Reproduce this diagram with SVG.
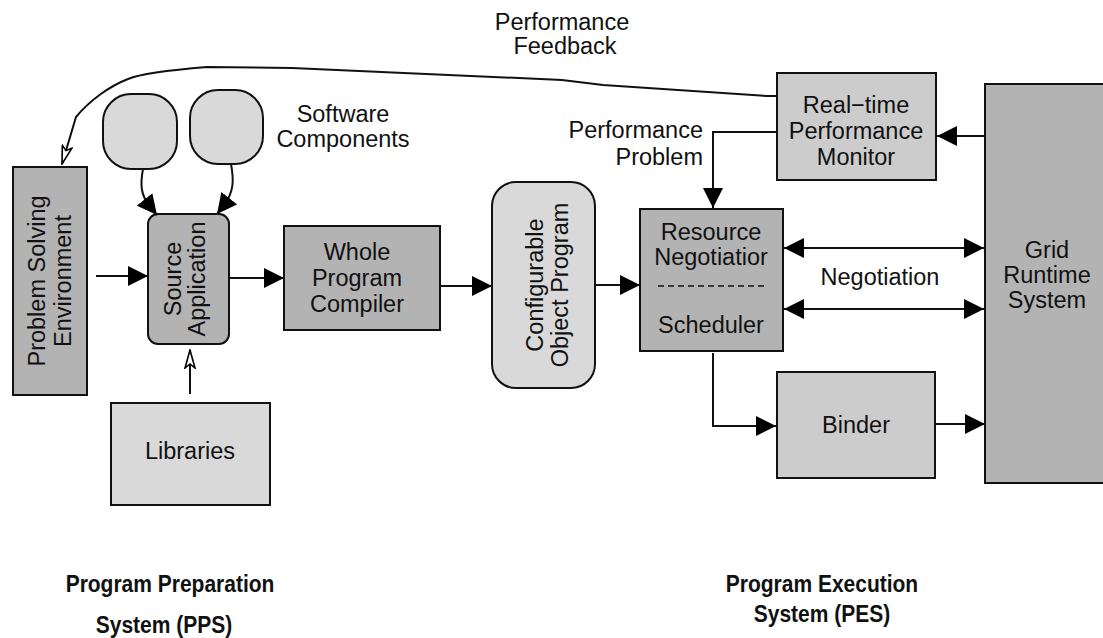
<svg xmlns="http://www.w3.org/2000/svg" width="1103" height="638" viewBox="0 0 1103 638">
<defs>
<style>
text{font-family:"Liberation Sans",Arial,Helvetica,sans-serif;font-size:23.5px;fill:#111;text-anchor:middle}
.b{font-weight:bold;font-size:24px}
.r{text-anchor:end}
.dk{fill:#b3b3b3;stroke:#111;stroke-width:2}
.md{fill:#cccccc;stroke:#111;stroke-width:2}
.lt{fill:#d9d9d9;stroke:#111;stroke-width:2}
.c{fill:none;stroke:#111;stroke-width:2}
</style>
<marker id="ah" markerWidth="20" markerHeight="20" refX="20" refY="10" orient="auto" markerUnits="userSpaceOnUse" viewBox="0 0 20 20">
<path d="M0,0 L20,10 L0,20 Z" fill="#000"/>
</marker>
<marker id="as" markerWidth="20" markerHeight="20" refX="0" refY="10" orient="auto" markerUnits="userSpaceOnUse" viewBox="0 0 20 20">
<path d="M20,0 L0,10 L20,20 Z" fill="#000"/>
</marker>
<marker id="ao" markerWidth="20" markerHeight="12" refX="19" refY="6" orient="auto" markerUnits="userSpaceOnUse" viewBox="0 0 20 12">
<path d="M1,1 L19,6 L1,11 L5,6 Z" fill="#fff" stroke="#000" stroke-width="1.6" stroke-linejoin="miter"/>
</marker>
</defs>

<g id="pse">
<rect class="dk" x="13" y="167" width="74" height="228"/>
<g transform="translate(0,281) rotate(-90)">
<text x="0" y="45">Problem Solving</text>
<text x="0" y="71">Environment</text>
</g>
</g>

<g id="sw1"><rect class="lt" x="103" y="94" width="74" height="75" rx="28" ry="28"/></g>
<g id="sw2"><rect class="lt" x="190" y="90" width="73" height="74" rx="28" ry="28"/></g>
<g id="swlabel">
<text x="343" y="122">Software</text>
<text x="343" y="147">Components</text>
</g>

<g id="source">
<rect class="dk" x="148" y="214" width="81" height="130" rx="10" ry="10"/>
<g transform="translate(0,279) rotate(-90)">
<text x="0" y="181">Source</text>
<text x="0" y="205">Application</text>
</g>
</g>

<g id="libraries">
<rect class="lt" x="111" y="403" width="159" height="102"/>
<text x="190" y="459">Libraries</text>
</g>

<g id="wpc">
<rect class="dk" x="284" y="226" width="156" height="104"/>
<text x="357" y="260">Whole</text>
<text x="357" y="286">Program</text>
<text x="357" y="312">Compiler</text>
</g>

<g id="cop">
<rect class="lt" x="492" y="182" width="103" height="206" rx="24" ry="24"/>
<g transform="translate(0,285) rotate(-90)">
<text x="0" y="543">Configurable</text>
<text x="0" y="568">Object Program</text>
</g>
</g>

<g id="rn">
<rect class="dk" x="640" y="209" width="143" height="142"/>
<text x="711" y="240">Resource</text>
<text x="711" y="265">Negotiatior</text>
<line x1="658" y1="286" x2="766" y2="286" stroke="#111" stroke-width="1.5" stroke-dasharray="6,4"/>
<text x="711" y="333">Scheduler</text>
</g>

<g id="rpm">
<rect class="md" x="777" y="73" width="159" height="107"/>
<text x="856" y="113">Real−time</text>
<text x="856" y="139">Performance</text>
<text x="856" y="165">Monitor</text>
</g>

<g id="binder">
<rect class="md" x="777" y="372" width="158" height="106"/>
<text x="856" y="433">Binder</text>
</g>

<g id="grid">
<rect class="dk" x="985" y="84" width="130" height="399"/>
<text x="1047" y="258">Grid</text>
<text x="1047" y="283">Runtime</text>
<text x="1047" y="308">System</text>
</g>

<g id="labels">
<text x="562" y="30">Performance</text>
<text x="565" y="54">Feedback</text>
<text class="r" x="703" y="138">Performance</text>
<text class="r" x="703" y="165">Problem</text>
<text x="880" y="285">Negotiation</text>
<g transform="translate(170,0) scale(0.875,1)"><text class="b" x="0" y="592">Program Preparation</text></g>
<g transform="translate(164,0) scale(0.875,1)"><text class="b" x="0" y="633">System (PPS)</text></g>
<g transform="translate(822,0) scale(0.875,1)"><text class="b" x="0" y="592">Program Execution</text></g>
<g transform="translate(822,0) scale(0.875,1)"><text class="b" x="0" y="622">System (PES)</text></g>
</g>

<g id="connectors">
<path class="c" d="M777,96 L767,96 L603,85 L562,80 L292,68 L207,67 C170,70 140,74 128,79 C110,86 90,100 76,117 L62,164" marker-end="url(#ao)"/>
<path class="c" d="M143,169 C140,185 141,195 149,205 L157,215" marker-end="url(#ah)"/>
<path class="c" d="M231,164 C234,180 234,192 224,205 L217,214" marker-end="url(#ah)"/>
<line class="c" x1="96" y1="276" x2="148" y2="276" marker-end="url(#ah)"/>
<line class="c" x1="190" y1="394" x2="190" y2="350" marker-end="url(#ao)"/>
<line class="c" x1="230" y1="278" x2="284" y2="278" marker-end="url(#ah)"/>
<line class="c" x1="440" y1="286" x2="492" y2="286" marker-end="url(#ah)"/>
<line class="c" x1="595" y1="285" x2="640" y2="285" marker-end="url(#ah)"/>
<path class="c" d="M777,132 L713,132 L713,208" marker-end="url(#ah)"/>
<line class="c" x1="985" y1="136" x2="937" y2="136" marker-end="url(#ah)"/>
<line class="c" x1="784" y1="248" x2="984" y2="248" marker-start="url(#as)" marker-end="url(#ah)"/>
<line class="c" x1="784" y1="309" x2="984" y2="309" marker-start="url(#as)" marker-end="url(#ah)"/>
<path class="c" d="M713,353 L713,426 L776,426" marker-end="url(#ah)"/>
<line class="c" x1="935" y1="424" x2="985" y2="424" marker-end="url(#ah)"/>
</g>
</svg>
